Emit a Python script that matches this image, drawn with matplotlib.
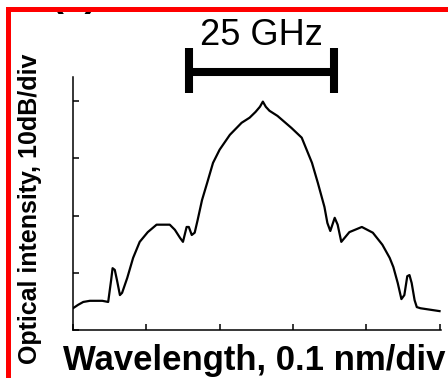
import matplotlib
matplotlib.use("Agg")
import matplotlib.pyplot as plt
from matplotlib.patches import Rectangle
from matplotlib.transforms import Bbox
import numpy as np

# Spectrum trace (x in 0.1 nm divisions, y in 10 dB divisions)
wavelength_div = [0.00, 0.07, 0.14, 0.23, 0.40, 0.48, 0.52, 0.54, 0.57, 0.60, 0.64, 0.67, 0.74,
                  0.82, 0.91, 1.02, 1.14, 1.32, 1.39, 1.46, 1.50, 1.55, 1.58, 1.62, 1.66, 1.70,
                  1.76, 1.83, 1.91, 2.00, 2.14, 2.30, 2.41, 2.49, 2.55, 2.59, 2.63, 2.68, 2.79,
                  2.98, 3.12, 3.26, 3.34, 3.43, 3.47, 3.51, 3.57, 3.61, 3.66, 3.77, 3.94, 4.09,
                  4.22, 4.32, 4.37, 4.43, 4.48, 4.52, 4.56, 4.59, 4.62, 4.66, 4.69, 4.74, 5.00]
intensity_div = [0.38, 0.44, 0.49, 0.51, 0.51, 0.49, 0.87, 1.08, 1.05, 0.87, 0.61, 0.65, 0.91,
                 1.26, 1.54, 1.71, 1.84, 1.84, 1.75, 1.61, 1.54, 1.80, 1.80, 1.66, 1.70, 1.92,
                 2.27, 2.57, 2.92, 3.15, 3.41, 3.62, 3.71, 3.81, 3.90, 3.99, 3.90, 3.83, 3.74,
                 3.53, 3.36, 2.92, 2.57, 2.15, 1.87, 1.73, 1.96, 1.84, 1.54, 1.71, 1.80, 1.70,
                 1.49, 1.26, 1.10, 0.82, 0.54, 0.61, 0.94, 0.96, 0.82, 0.52, 0.40, 0.38, 0.33]

x_ticks = [0, 1, 2, 3, 4, 5]
y_ticks = [0, 1, 2, 3, 4]
span_label = "25 GHz"
span_ends = (1.58, 3.56)
span_level = 4.51
cap_range = (4.14, 4.93)
panel_label = "(a)"

plt.rcParams['font.family'] = ['Liberation Sans', 'DejaVu Sans']

W, H = 448, 378
fig = plt.figure(figsize=(W/100, H/100), dpi=100)
ax = fig.add_axes([73/W, 48/H, (441-73)/W, (330-77)/H])
ax.plot(wavelength_div, intensity_div, color='black', lw=1.6)
ax.set_xlim(0, 5.02)
ax.set_ylim(0, 4.42)
ax.set_xticks(x_ticks)
ax.set_yticks(y_ticks)
ax.set_xticklabels([])
ax.set_yticklabels([])
ax.tick_params(direction='in', length=4, width=1.1, color='black')
for s in ['top', 'right']:
    ax.spines[s].set_visible(False)
for s in ['left', 'bottom']:
    ax.spines[s].set_linewidth(1.1)

# 25 GHz span bar
ax.plot(span_ends, [span_level, span_level], color='black', lw=5.8, clip_on=False,
        solid_capstyle='butt')
for xe in span_ends:
    ax.plot([xe, xe], cap_range, color='black', lw=5.8, clip_on=False, solid_capstyle='butt')
ax.text(np.mean(span_ends), span_level + 0.47, span_label, ha='center', va='baseline',
        fontsize=26, clip_on=False)

fig.text(63/W, 8/H, "Wavelength, 0.1 nm/div", ha='left', va='baseline',
         fontsize=25, fontweight='bold')
fig.text(30/W, 1 - 209/H, "Optical intensity, 10dB/div", rotation=90,
         ha='center', va='center', fontsize=18, fontweight='bold')

# cropped panel label (only the bottom of the parentheses remains visible)
t = fig.text(74/W, (H - 6)/H, panel_label, ha='center', va='baseline',
             fontsize=28, fontweight='bold')
t.set_clip_box(Bbox.from_extents(0, 0, W, H - 12))
t.set_clip_on(True)

# red frame
fig.patches.append(Rectangle((6/W, 0), 5/W, (H-7)/H, transform=fig.transFigure,
                             facecolor='#ff0000', edgecolor='none', zorder=10))
fig.patches.append(Rectangle((6/W, (H-12)/H), (W-6)/W, 5/H,
                             transform=fig.transFigure, facecolor='#ff0000',
                             edgecolor='none', zorder=10))

fig.savefig("out.png", dpi=100)
